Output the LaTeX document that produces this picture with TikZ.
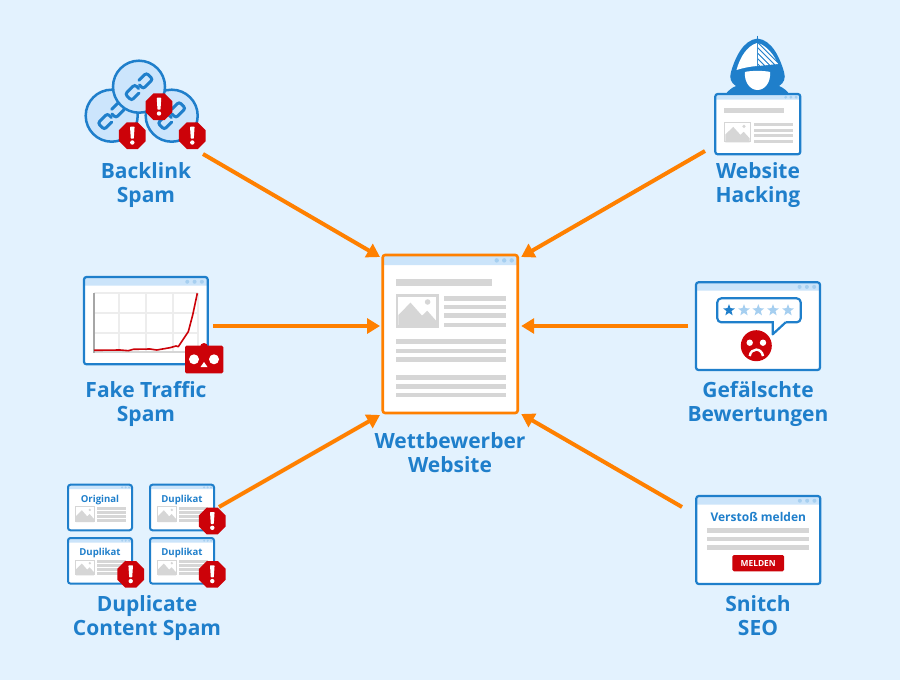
\documentclass[tikz,border=0pt]{standalone}
\usepackage{fontspec}
\setmainfont{Open Sans}
\usetikzlibrary{arrows.meta}
\definecolor{bgc}{HTML}{E3F2FE}
\definecolor{bluec}{HTML}{1F7FCB}
\definecolor{hdrc}{HTML}{CBE4FA}
\definecolor{dotc}{HTML}{A6CFF0}
\definecolor{grayc}{HTML}{D6D6D6}
\definecolor{gridc}{HTML}{EDEDED}
\definecolor{redc}{HTML}{CC0209}
\definecolor{orangec}{HTML}{FF8000}
\definecolor{circc}{HTML}{CCE5FC}
\tikzset{
  lbl/.style={text=bluec,font=\fontsize{21}{24}\selectfont\bfseries,align=center,inner sep=0pt},
  arr/.style={draw=orangec,line width=4pt,-{Triangle[length=13pt,width=15pt]}},
  gbar/.style={fill=grayc},
  wintxt/.style={text=bluec,font=\bfseries,inner sep=0pt}
}
% x1 y1 x2 y2 yh colour lw dotr dotspacing
\newcommand\winframe[9]{
  \fill[white,rounded corners=2.5pt] (#1,#2) rectangle (#3,#4);
  \fill[hdrc,rounded corners=2.5pt] (#1,#5) -- (#1,#2) -- (#3,#2) -- (#3,#5);
  \foreach \k in {1,2,3}{\fill[dotc] ({#3-#9*\k+#9*0.2},{(#2+#5)/2+0.4}) circle[radius=#8pt];}
  \draw[#6,line width=#7pt,rounded corners=2.5pt] (#1,#2) rectangle (#3,#4);
}
\newcommand\gb[4]{\fill[gbar] (#1,{#2-#4/2}) rectangle (#3,{#2+#4/2});}
\newcommand\imgi[4]{
  \begin{scope}[shift={(#1,#2)},x=#3pt,y=-#4pt]
    \fill[grayc] (0,0) rectangle (1,1);
    \fill[white] (.055,.07) rectangle (.945,.93);
    \fill[grayc] (.055,.62) -- (.34,.25) -- (.61,.64) -- (.73,.49) -- (.945,.80) -- (.945,1) -- (.055,1) -- cycle;
    \fill[grayc] (.74,.23) ellipse[x radius=.065,y radius=.083];
  \end{scope}
}
\newcommand\octa[2]{
  \fill[redc] (#1,#2) +(22.5:14.4) -- +(67.5:14.4) -- +(112.5:14.4) -- +(157.5:14.4) -- +(202.5:14.4) -- +(247.5:14.4) -- +(292.5:14.4) -- +(337.5:14.4) -- cycle;
  \fill[white,rounded corners=.6pt] ({#1-2.3},{#2-9}) -- ({#1+2.3},{#2-9}) -- ({#1+1.5},{#2+3}) -- ({#1-1.5},{#2+3}) -- cycle;
  \fill[white] (#1,{#2+6.8}) circle[radius=2.2pt];
}
\newcommand\chainic[2]{
  \begin{scope}[shift={(#1,#2)},rotate=45]
    \draw[bluec,line width=3pt,rounded corners=2.5pt,line cap=round] (-4.5,4.5) -- (-15,4.5) -- (-15,-4.5) -- (-1.5,-4.5) -- (-1.5,1);
    \draw[bluec,line width=3pt,rounded corners=2.5pt,line cap=round] (4.5,-4.5) -- (15,-4.5) -- (15,4.5) -- (1.5,4.5) -- (1.5,-1);
  \end{scope}
}
\newcommand\stari[3]{
  \fill[#3] (#1,#2) +(-90:6.2) -- +(-54:2.6) -- +(-18:6.2) -- +(18:2.6) -- +(54:6.2) -- +(90:2.6) -- +(126:6.2) -- +(162:2.6) -- +(-162:6.2) -- +(-126:2.6) -- cycle;
}
\begin{document}
\begin{tikzpicture}[x=1pt,y=-1pt]
\useasboundingbox (0,0) rectangle (900,680);
\fill[bgc] (0,0) rectangle (900,680);

% centre window
\node[inner sep=0pt,outer sep=0pt,minimum width=135pt,minimum height=158pt] (web) at (450.2,334) {};
\winframe{382.7}{255}{517.7}{413}{265}{orangec}{2.6}{2.2}{7.5}
\gb{396}{282.7}{491.7}{7.5}
\imgi{396}{294.3}{42.7}{33.4}
\foreach \yy in {298.3,307,315.7,325}{\gb{443.7}{\yy}{505.7}{4.6}}
\foreach \yy in {341.7,351,359.3,377.3,386.7,395}{\gb{396}{\yy}{505.7}{4.8}}
\node[lbl] (lweb) at (450,453) {Wettbewerber\\Website};

% backlink
\foreach \cx/\cy in {111.7/115.7,171.7/115.7,139/86.7}{
  \draw[bluec,fill=circc,line width=2.5pt] (\cx,\cy) circle[radius=26pt];
  \chainic{\cx}{\cy}
}
\octa{132.3}{135.7}\octa{159}{106.7}\octa{192.3}{135.7}
\node[lbl] (lback) at (146,185) {Backlink\\Spam};
\coordinate (tback) at (203,154);

% hacker
\fill[bluec] (757.5,38.5) .. controls (743,40) and (735,58) .. (731,72) .. controls (729,78) and (731,83) .. (736,86) .. controls (731,88) and (728,91) .. (725,95) -- (790,95) .. controls (787,91) and (784,88) .. (779,86) .. controls (784,83) and (786,78) .. (784,72) .. controls (780,58) and (772,40) .. (757.5,38.5) -- cycle;
\draw[bluec,line width=.6pt] (757.4,35.5) -- (757.4,40);
\fill[white] (736.5,70) .. controls (740,57) and (747,46) .. (757,43) -- (757,66) .. controls (750,66.5) and (743,68) .. (736.5,70) -- cycle;
\begin{scope}
  \clip (758.2,43) .. controls (767,46) and (774,55) .. (778,64) -- (758.2,66) -- cycle;
  \foreach \k in {0,5.4,...,30}{\draw[white,line width=2.6pt] (748,{30+\k}) -- (785,{67+\k});}
\end{scope}
\fill[white] (745,72) .. controls (750,70.5) and (765,70.5) .. (770,72) .. controls (771,82) and (765,90) .. (757.5,90) .. controls (750,90) and (744,82) .. (745,72) -- cycle;
\winframe{715.3}{94}{800.3}{154.3}{99.5}{bluec}{2.2}{1.6}{5.2}
\gb{724}{110.3}{784}{4.8}
\imgi{724}{121.7}{27}{20.6}
\foreach \yy in {124.3,130.3,135.7,141}{\gb{754}{\yy}{793}{3}}
\node[lbl] (lhack) at (758,185) {Website\\Hacking};
\coordinate (thack) at (705,151);

% chart
\winframe{84}{277}{207.7}{364.3}{285.7}{bluec}{2.2}{2}{7.3}
\foreach \xx in {119,146,172.7,198.3}{\draw[gridc,line width=1.8pt] (\xx,293.3) -- (\xx,351.7);}
\foreach \yy in {293.3,313.3,332.7}{\draw[gridc,line width=1.8pt] (94,\yy) -- (198.3,\yy);}
\draw[grayc,line width=1.8pt] (94,351.7) -- (198.3,351.7);
\draw[black!35,line width=1.6pt] (94,293) -- (94,352.5);
\draw[redc,line width=1.6pt,line join=round] (94,350.3) -- (120,350) -- (128.3,350.7) -- (133.3,349.3) -- (150,349) -- (156.7,350) -- (170,347.7) -- (176,346) -- (178.3,346.7) -- (188.3,331.7) -- (192.7,315) -- (197.3,293.3);
\fill[redc] (204,347) circle[radius=4pt];
\fill[redc,rounded corners=1.5pt] (185,345.7) rectangle (223.3,373.3);
\fill[white] (194,359.3) circle[radius=5pt];
\fill[white] (214,359.3) circle[radius=5pt];
\fill[white] (204,362) -- (207.5,367) -- (200.5,367) -- cycle;
\node[lbl] (lfake) at (146,404) {Fake Traffic\\Spam};
\coordinate (tfake) at (213,326);

% reviews
\winframe{696}{282.3}{820}{370}{290.7}{bluec}{2.2}{2}{7.3}
\fill[white] (720,298.3) -- (798,298.3) -- (798,322.3) -- (720,322.3) -- cycle;
\draw[bluec,line width=2.2pt,line join=round,rounded corners=4pt] (772.7,322.3) -- (717.3,322.3) -- (717.3,298.3) -- (800.7,298.3) -- (800.7,322.3) -- (785.7,322.3);
\draw[bluec,line width=2.2pt,line join=round] (772.7,321.2) -- (772.7,334.3) -- (785.7,322.3);
\stari{729}{310.3}{bluec}
\foreach \xx in {744,758.3,773,788}{\stari{\xx}{310.3}{dotc}}
\fill[redc] (756.3,345.7) circle[radius=15.5pt];
\fill[white] (749.7,342.7) circle[radius=3.2pt];
\fill[white] (763,342.7) circle[radius=3.2pt];
\draw[white,line width=2.4pt] (749.7,356) .. controls (751,347.5) and (761.5,347.5) .. (763,356);
\node[lbl] (lrev) at (758,404) {Gefälschte\\Bewertungen};
\coordinate (trev) at (688,326);

% duplicates
\foreach \xa/\ya/\tx/\nm in {68/484.7/Original/da,150/484.7/Duplikat/db,68/538/Duplikat/dc,150/538/Duplikat/dd}{
  \winframe{\xa}{\ya}{\xa+64}{\ya+45.6}{\ya+4.5}{bluec}{2}{1.1}{3.5}
  \node[wintxt,font=\fontsize{9.6}{11}\selectfont\bfseries] (\nm) at ({\xa+32},{\ya+15}) {\tx};
  \imgi{\xa+7}{\ya+21.6}{20}{15.7}
  \foreach \dy in {23.6,27.6,31.6,35.6}{\gb{\xa+29}{\ya+\dy}{\xa+58}{2.6}}
}
\octa{212.3}{521}\octa{130.7}{574.3}\octa{212.3}{574.3}
\node[lbl] (ldup) at (147,618) {Duplicate\\Content Spam};
\coordinate (tdup) at (219,507);

% report
\winframe{696.3}{496}{820.3}{584}{504.7}{bluec}{2.2}{2}{7.3}
\node[wintxt,font=\fontsize{12}{15}\selectfont\bfseries] (rept) at (758.3,517) {Verstoß melden};
\foreach \yy in {530.3,539,547.3}{\gb{707.3}{\yy}{809}{4.6}}
\node[fill=redc,rounded corners=1.5pt,text=white,font=\fontsize{8.4}{10}\selectfont\bfseries,inner sep=0pt,minimum width=51.7pt,minimum height=16.3pt] (rbtn) at (758.2,563.2) {MELDEN};
\node[lbl] (lsn) at (758,616) {Snitch\\SEO};
\coordinate (tsn) at (682,507);

% connectors
\coordinate (i1) at ([shift={(-2.7,2)}]web.north west);
\coordinate (i2) at ([shift={(3.5,2)}]web.north east);
\coordinate (i3) at ([shift={(-2.7,-8)}]web.west);
\coordinate (i4) at ([shift={(3.5,-8)}]web.east);
\coordinate (i5) at ([shift={(-2.7,2)}]web.south west);
\coordinate (i6) at ([shift={(3.5,1)}]web.south east);
\draw[arr] (tback) -- (i1);
\draw[arr] (thack) -- (i2);
\draw[arr] (tfake) -- (i3);
\draw[arr] (trev) -- (i4);
\draw[arr] (tdup) -- (i5);
\draw[arr] (tsn) -- (i6);
\end{tikzpicture}
\end{document}
